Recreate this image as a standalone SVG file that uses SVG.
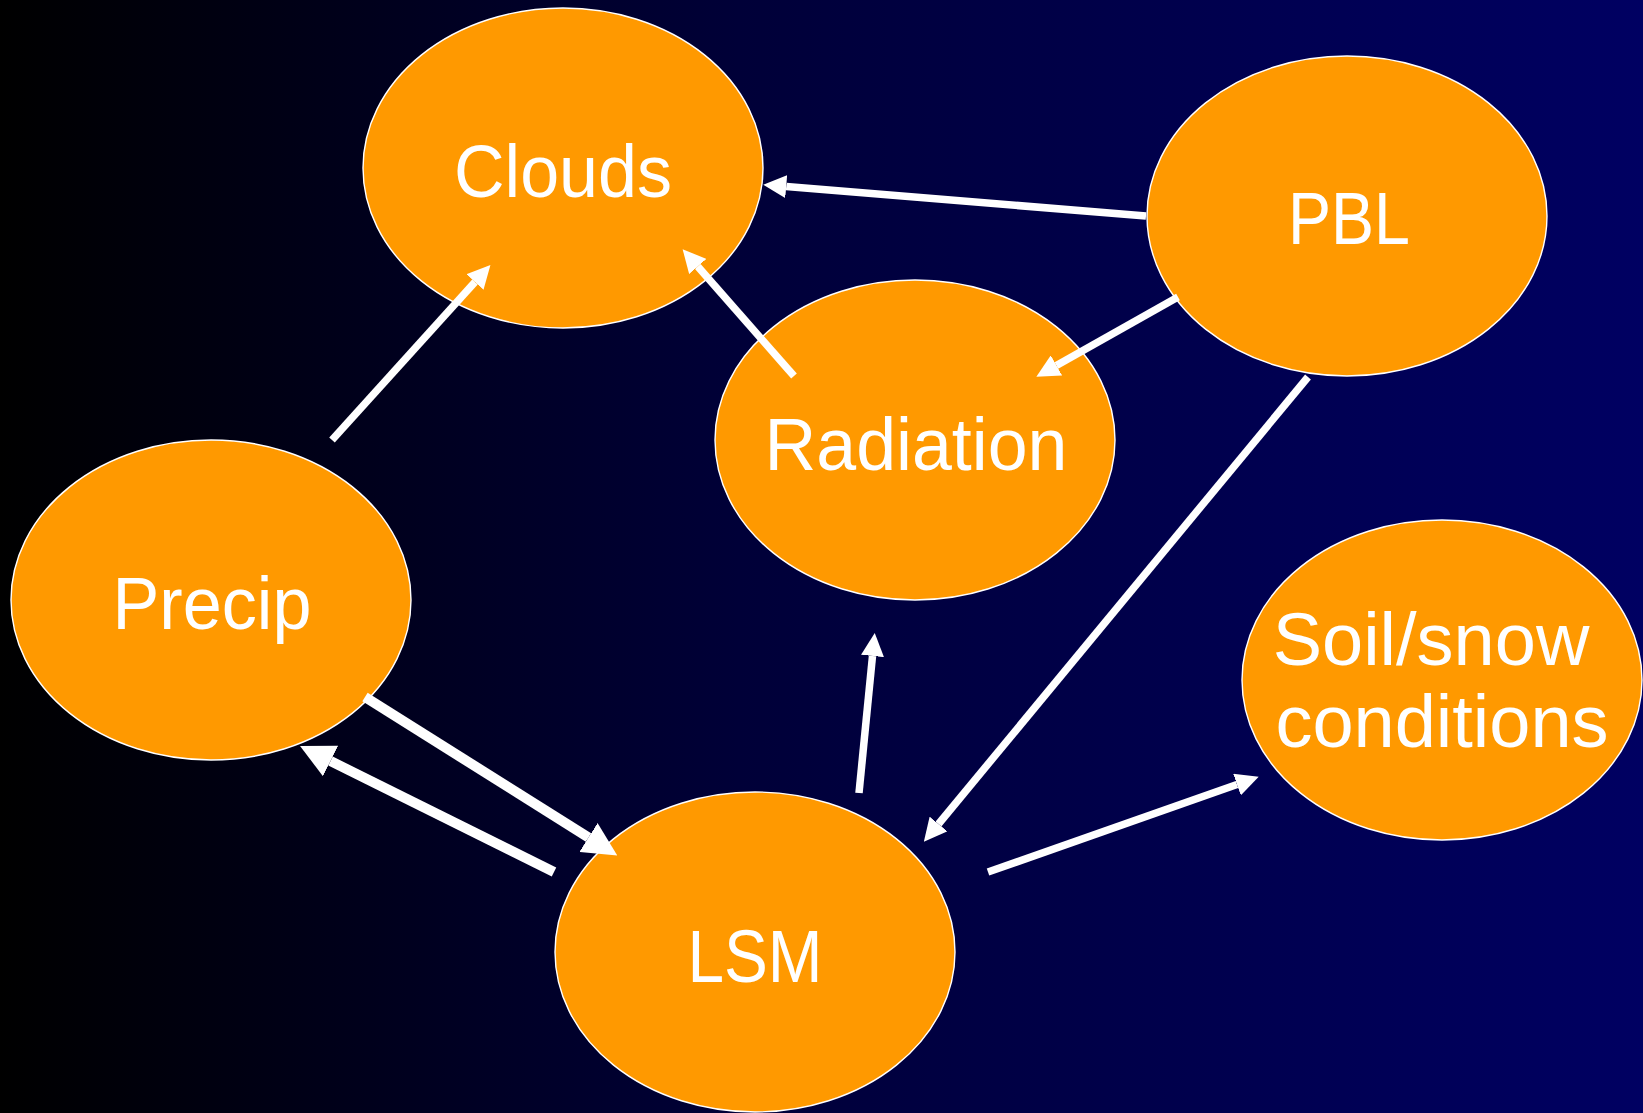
<svg xmlns="http://www.w3.org/2000/svg" width="1643" height="1113" viewBox="0 0 1643 1113">
  <defs>
    <linearGradient id="bg" x1="0" y1="0" x2="1" y2="0">
      <stop offset="0" stop-color="#000000"/>
      <stop offset="0.45" stop-color="#000038"/>
      <stop offset="1" stop-color="#000062"/>
    </linearGradient>
    <marker id="head" markerUnits="userSpaceOnUse" markerWidth="23" markerHeight="23" viewBox="0 0 10 10" refX="0" refY="5" orient="auto">
      <path d="M0,0 L10,5 L0,10 z" fill="#ffffff"/>
    </marker>
    <marker id="headBig" markerUnits="userSpaceOnUse" markerWidth="34" markerHeight="34" viewBox="0 0 10 10" refX="0" refY="5" orient="auto">
      <path d="M0,0 L10,5 L0,10 z" fill="#ffffff"/>
    </marker>
  </defs>
  <style>
    .node { fill: #FF9900; stroke: #ffffff; stroke-width: 1.4; }
    .label { fill: #ffffff; font-family: "Liberation Sans", Arial, sans-serif; font-size: 74px; text-anchor: middle; }
    .conn { stroke: #ffffff; fill: none; stroke-linecap: butt; }
    .thin { stroke-width: 7.5; marker-end: url(#head); }
    .thick { stroke-width: 10; marker-end: url(#headBig); }
  </style>
  <rect x="0" y="0" width="1643" height="1113" fill="url(#bg)"/>

  <g id="node-clouds">
    <ellipse class="node" cx="563" cy="168" rx="200" ry="160"/>
    <text class="label" x="563" y="197" textLength="218" lengthAdjust="spacingAndGlyphs">Clouds</text>
  </g>
  <g id="node-pbl">
    <ellipse class="node" cx="1347" cy="216" rx="200" ry="160"/>
    <text class="label" x="1349" y="244" textLength="122" lengthAdjust="spacingAndGlyphs">PBL</text>
  </g>
  <g id="node-radiation">
    <ellipse class="node" cx="915" cy="440" rx="200" ry="160"/>
    <text class="label" x="916" y="470" textLength="303" lengthAdjust="spacingAndGlyphs">Radiation</text>
  </g>
  <g id="node-precip">
    <ellipse class="node" cx="211" cy="600" rx="200" ry="160"/>
    <text class="label" x="212" y="629" textLength="199" lengthAdjust="spacingAndGlyphs">Precip</text>
  </g>
  <g id="node-soil">
    <ellipse class="node" cx="1442" cy="680" rx="200" ry="160"/>
    <text class="label" x="1431" y="665">Soil/snow</text>
    <text class="label" x="1442" y="747">conditions</text>
  </g>
  <g id="node-lsm">
    <ellipse class="node" cx="755" cy="952" rx="200" ry="160"/>
    <text class="label" x="755" y="982" textLength="135" lengthAdjust="spacingAndGlyphs">LSM</text>
  </g>

  <g id="connectors">
    <line class="conn thin" x1="1146" y1="216" x2="786.2" y2="186.6"/>
    <line class="conn thin" x1="794" y1="376" x2="697.8" y2="266.5"/>
    <line class="conn thin" x1="1178" y1="297" x2="1056.4" y2="365.4"/>
    <line class="conn thin" x1="332" y1="440" x2="475" y2="282"/>
    <line class="conn thin" x1="1308" y1="377" x2="938.5" y2="824"/>
    <line class="conn thin" x1="859" y1="793" x2="872.5" y2="656"/>
    <line class="conn thin" x1="988" y1="872" x2="1237" y2="784.5"/>
    <line class="conn thick" x1="365" y1="697" x2="588.5" y2="837.5"/>
    <line class="conn thick" x1="554" y1="872" x2="330.5" y2="761"/>
  </g>
</svg>
